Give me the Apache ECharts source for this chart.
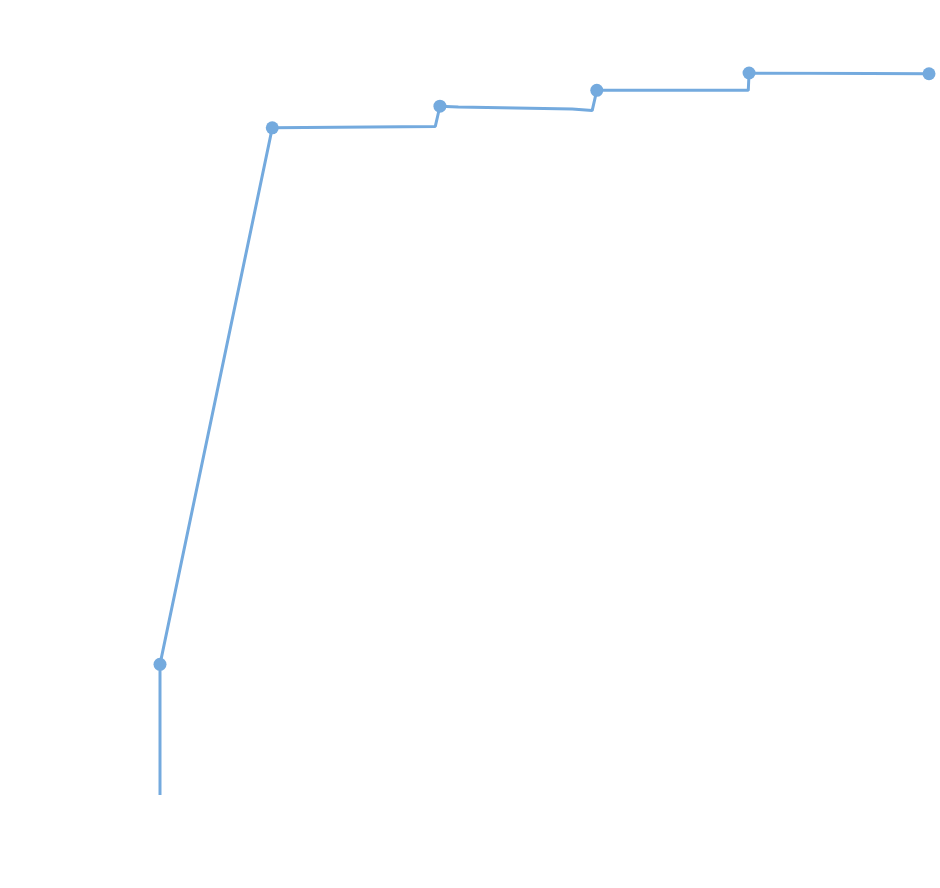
<!DOCTYPE html>
<html><head><meta charset="utf-8">
<script src="https://cdn.jsdelivr.net/npm/echarts@6/dist/echarts.min.js"></script>
<style>html,body{margin:0;padding:0;background:#fff}#c{width:940px;height:888px}</style>
</head><body><div id="c"></div>
<script>
// x positions and values of the line's vertices
const xValues = [0, 0, 14.6, 35.8, 36.4, 38.8, 53.6, 56.2, 56.8, 76.5, 76.6, 100];
const yValues = [0, 18.1, 92.4, 92.6, 95.4, 95.3, 95.0, 94.8, 97.6, 97.6, 100, 99.9];
// which vertices carry a dot marker
const marked = [false, true, true, false, true, false, false, false, true, false, true, true];

const data = xValues.map((x, i) => ({
  value: [x, yValues[i]],
  symbol: marked[i] ? 'circle' : 'none'
}));

const chart = echarts.init(document.getElementById('c'));
chart.setOption({
  animation: false,
  grid: { left: 160, right: 11, top: 73, bottom: 93 },
  xAxis: { type: 'value', min: 0, max: 100, show: false },
  yAxis: { type: 'value', min: 0, max: 100, show: false },
  series: [{
    type: 'line',
    data: data,
    symbolSize: 13,
    showAllSymbol: true,
    lineStyle: { color: '#74aade', width: 3 },
    itemStyle: { color: '#74aade' }
  }]
});
</script></body></html>
